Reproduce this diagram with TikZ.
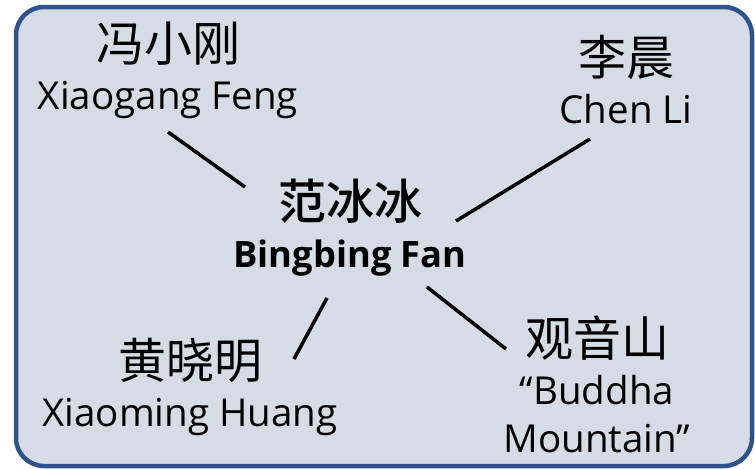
\documentclass[tikz,border=0pt]{standalone}
\usepackage{fontspec}
\setmainfont{Open Sans}
\newfontfamily\cjk{Noto Sans CJK SC}[BoldFont={Noto Sans CJK SC Medium}]
\definecolor{boxfill}{HTML}{D6DCE5}
\definecolor{boxline}{HTML}{2F528F}
\newcommand{\zh}[1]{{\cjk\fontsize{48}{48}\selectfont #1}}
\begin{document}
\begin{tikzpicture}[x=1pt,y=-1pt,
		person/.style={align=center,inner sep=0pt,font=\fontsize{38.5}{48}\selectfont},
		star/.style={person,font=\bfseries\fontsize{36.3}{48}\selectfont},
		link/.style={line width=3.5pt}]
		\useasboundingbox (0,0) rectangle (755,469);
		\draw [boxline,fill=boxfill,line width=4.5pt,rounded corners=28pt] (16,7) rectangle (752,466);
		\node[star] (bing) at (350,228) {\zh{范冰冰}\\Bingbing Fan};
		\node[person] (feng) at (168,70) {\zh{冯小刚}\\Xiaogang Feng};
		\node[person] (chen) at (626,80) {\zh{李晨}\\Chen Li};
		\node[person] (huang) at (190,387) {\zh{黄晓明}\\Xiaoming Huang};
		\node[person] (shan) at (597,384) {\zh{观音山}\\``Buddha\\Mountain''};
		%\draw (bing) -- (feng);
		\draw[link] ([yshift=-62pt]feng.center) -- ([xshift=-105pt,yshift=41pt]bing.center);
		\draw[link] ([xshift=-36pt,yshift=-59pt]chen.center) -- ([xshift=106pt,yshift=7pt]bing.center);
		\draw[link] ([xshift=-23pt,yshift=-70pt]bing.center) -- ([xshift=104pt,yshift=28pt]huang.center);
		\draw[link] ([xshift=77pt,yshift=-59pt]bing.center) -- ([xshift=-91pt,yshift=35pt]shan.center);
	\end{tikzpicture}
\end{document}
